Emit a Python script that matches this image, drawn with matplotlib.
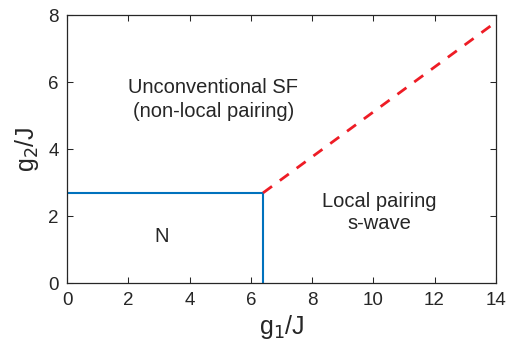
import matplotlib
matplotlib.use("Agg")
import matplotlib.pyplot as plt

plt.rcParams['font.family'] = ['Liberation Sans', 'DejaVu Sans']

# phase boundaries
blue_x = [0, 6.4, 6.4]
blue_y = [2.7, 2.7, 0]
red_x = [6.4, 14]
red_y = [2.7, 7.8]

xticks = [0, 2, 4, 6, 8, 10, 12, 14]
yticks = [0, 2, 4, 6, 8]

fig = plt.figure(figsize=(5.28, 3.51), dpi=100)
ax = fig.add_axes([0.127, 0.193, 0.812, 0.763])

ax.plot(blue_x, blue_y, color='#0072BD', lw=1.5)
ax.plot(red_x, red_y, color='#EE1C25', lw=2, linestyle=(0, (4, 3.5)))

ax.text(4.77, 5.5, 'Unconventional SF\n(non-local pairing)', ha='center', va='center',
        fontsize=14.5, color='#262626', linespacing=1.35)
ax.text(10.2, 2.1, 'Local pairing\ns-wave', ha='center', va='center',
        fontsize=14.5, color='#262626', linespacing=1.2)
ax.text(3.1, 1.4, 'N', ha='center', va='center', fontsize=14.5, color='#262626')

ax.set_xlim(0, 14)
ax.set_ylim(0, 8)
ax.set_xticks(xticks)
ax.set_yticks(yticks)
ax.tick_params(direction='in', top=True, right=True, labelsize=13.5,
               colors='#262626', length=4, width=0.75, pad=6)
for s in ax.spines.values():
    s.set_color('#262626')
    s.set_linewidth(0.9)

ax.set_xlabel('g$_1$/J', fontsize=18, color='#262626', labelpad=3)
ax.set_ylabel('g$_2$/J', fontsize=18, color='#262626', labelpad=5)

fig.savefig('out.png', dpi=100)
